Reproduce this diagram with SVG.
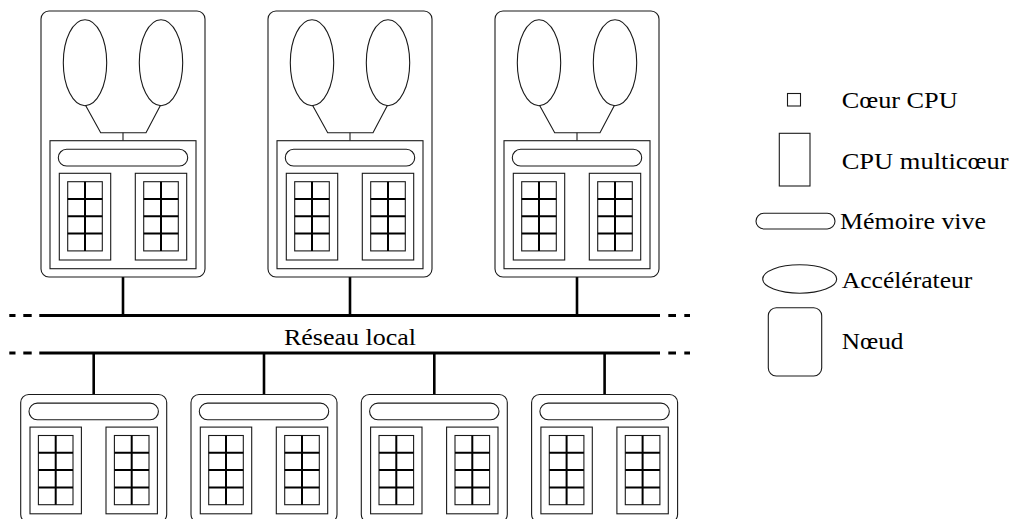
<svg xmlns="http://www.w3.org/2000/svg" xmlns:xlink="http://www.w3.org/1999/xlink" width="1016" height="519" viewBox="0 0 1016 519">
<style>
.o{fill:#fff;stroke:#1a1a1a;stroke-width:1.1}
.n{fill:none;stroke:#1a1a1a;stroke-width:1.1}
.gi{stroke:#000;stroke-width:2;fill:none}
.net{stroke:#000;stroke-width:3;fill:none}
.v{stroke:#000;stroke-width:2.6;fill:none}
text{font-size:23px;fill:#000}
</style>
<defs>
<g id="cpu">
<rect class="o" x="0" y="0" width="51.4" height="86.7"/>
<rect class="o" x="8.4" y="8.4" width="34.6" height="69.2"/>
<path class="gi" d="M25.7 8.4V77.6M8.4 25.7H43M8.4 43H43M8.4 60.3H43"/>
</g>
<g id="board">
<rect class="o" x="8.3" y="8.6" width="129.4" height="16.7" rx="8.35"/>
<use xlink:href="#cpu" x="9.3" y="32.6"/>
<use xlink:href="#cpu" x="85.3" y="32.6"/>
</g>
<g id="topnode">
<rect class="o" x="0" y="0" width="164" height="266" rx="8"/>
<ellipse class="o" cx="44" cy="51.7" rx="21.7" ry="43"/>
<ellipse class="o" cx="120" cy="51.7" rx="21.7" ry="43"/>
<polyline class="n" points="44.5,94.2 59.7,121.7 105,121.7 119.5,94.2"/>
<line class="n" x1="82" y1="121.7" x2="82" y2="129.7"/>
<rect class="o" x="9" y="129.7" width="146" height="128"/>
<use xlink:href="#board" x="9" y="129.7"/>
</g>
<g id="botnode">
<rect class="o" x="0" y="0" width="146" height="128" rx="8"/>
<use xlink:href="#board" x="0" y="0"/>
</g>
</defs>

<g id="connectors">
<path class="net" d="M9.3 315.5H15.5M23.3 315.5H31.7M39.3 315.5H660M668.3 315.5H676M684.3 315.5H690"/>
<path class="net" d="M9.3 353H15.5M23.3 353H31.7M39.3 353H660M668.3 353H676M684.3 353H690"/>
<path class="v" d="M123 277V315.5M350 277V315.5M577 277V315.5"/>
<path class="v" d="M93.7 353V394.5M264 353V394.5M434.3 353V394.5M604.6 353V394.5"/>
</g>

<g id="node-top-1"><use xlink:href="#topnode" x="41" y="11"/></g>
<g id="node-top-2"><use xlink:href="#topnode" x="268" y="11"/></g>
<g id="node-top-3"><use xlink:href="#topnode" x="495" y="11"/></g>

<g id="node-bot-1"><use xlink:href="#botnode" x="20.7" y="394.5"/></g>
<g id="node-bot-2"><use xlink:href="#botnode" x="191" y="394.5"/></g>
<g id="node-bot-3"><use xlink:href="#botnode" x="361.3" y="394.5"/></g>
<g id="node-bot-4"><use xlink:href="#botnode" x="531.6" y="394.5"/></g>

<g id="network-label" font-family="Liberation Serif, DejaVu Serif, serif">
<text x="284" y="345" textLength="132" lengthAdjust="spacingAndGlyphs">Réseau local</text>
</g>

<g id="legend" font-family="Liberation Serif, DejaVu Serif, serif">
<g id="legend-core">
<rect class="o" x="787.5" y="93.5" width="13" height="12.5"/>
<text x="841.7" y="108" textLength="116" lengthAdjust="spacingAndGlyphs">Cœur CPU</text>
</g>
<g id="legend-cpu">
<rect class="o" x="779.3" y="133.3" width="30.7" height="52.7"/>
<text x="841.7" y="169" textLength="167" lengthAdjust="spacingAndGlyphs">CPU multicœur</text>
</g>
<g id="legend-ram">
<rect class="o" x="756" y="213.3" width="79" height="15.7" rx="7.85"/>
<text x="840" y="229" textLength="146" lengthAdjust="spacingAndGlyphs">Mémoire vive</text>
</g>
<g id="legend-acc">
<ellipse class="o" cx="799.7" cy="279" rx="37" ry="14.2"/>
<text x="841.7" y="288.3" textLength="130.7" lengthAdjust="spacingAndGlyphs">Accélérateur</text>
</g>
<g id="legend-node">
<rect class="o" x="768.3" y="307.7" width="53.4" height="68.3" rx="8"/>
<text x="841.7" y="349.3" textLength="61.7" lengthAdjust="spacingAndGlyphs">Nœud</text>
</g>
</g>
</svg>
